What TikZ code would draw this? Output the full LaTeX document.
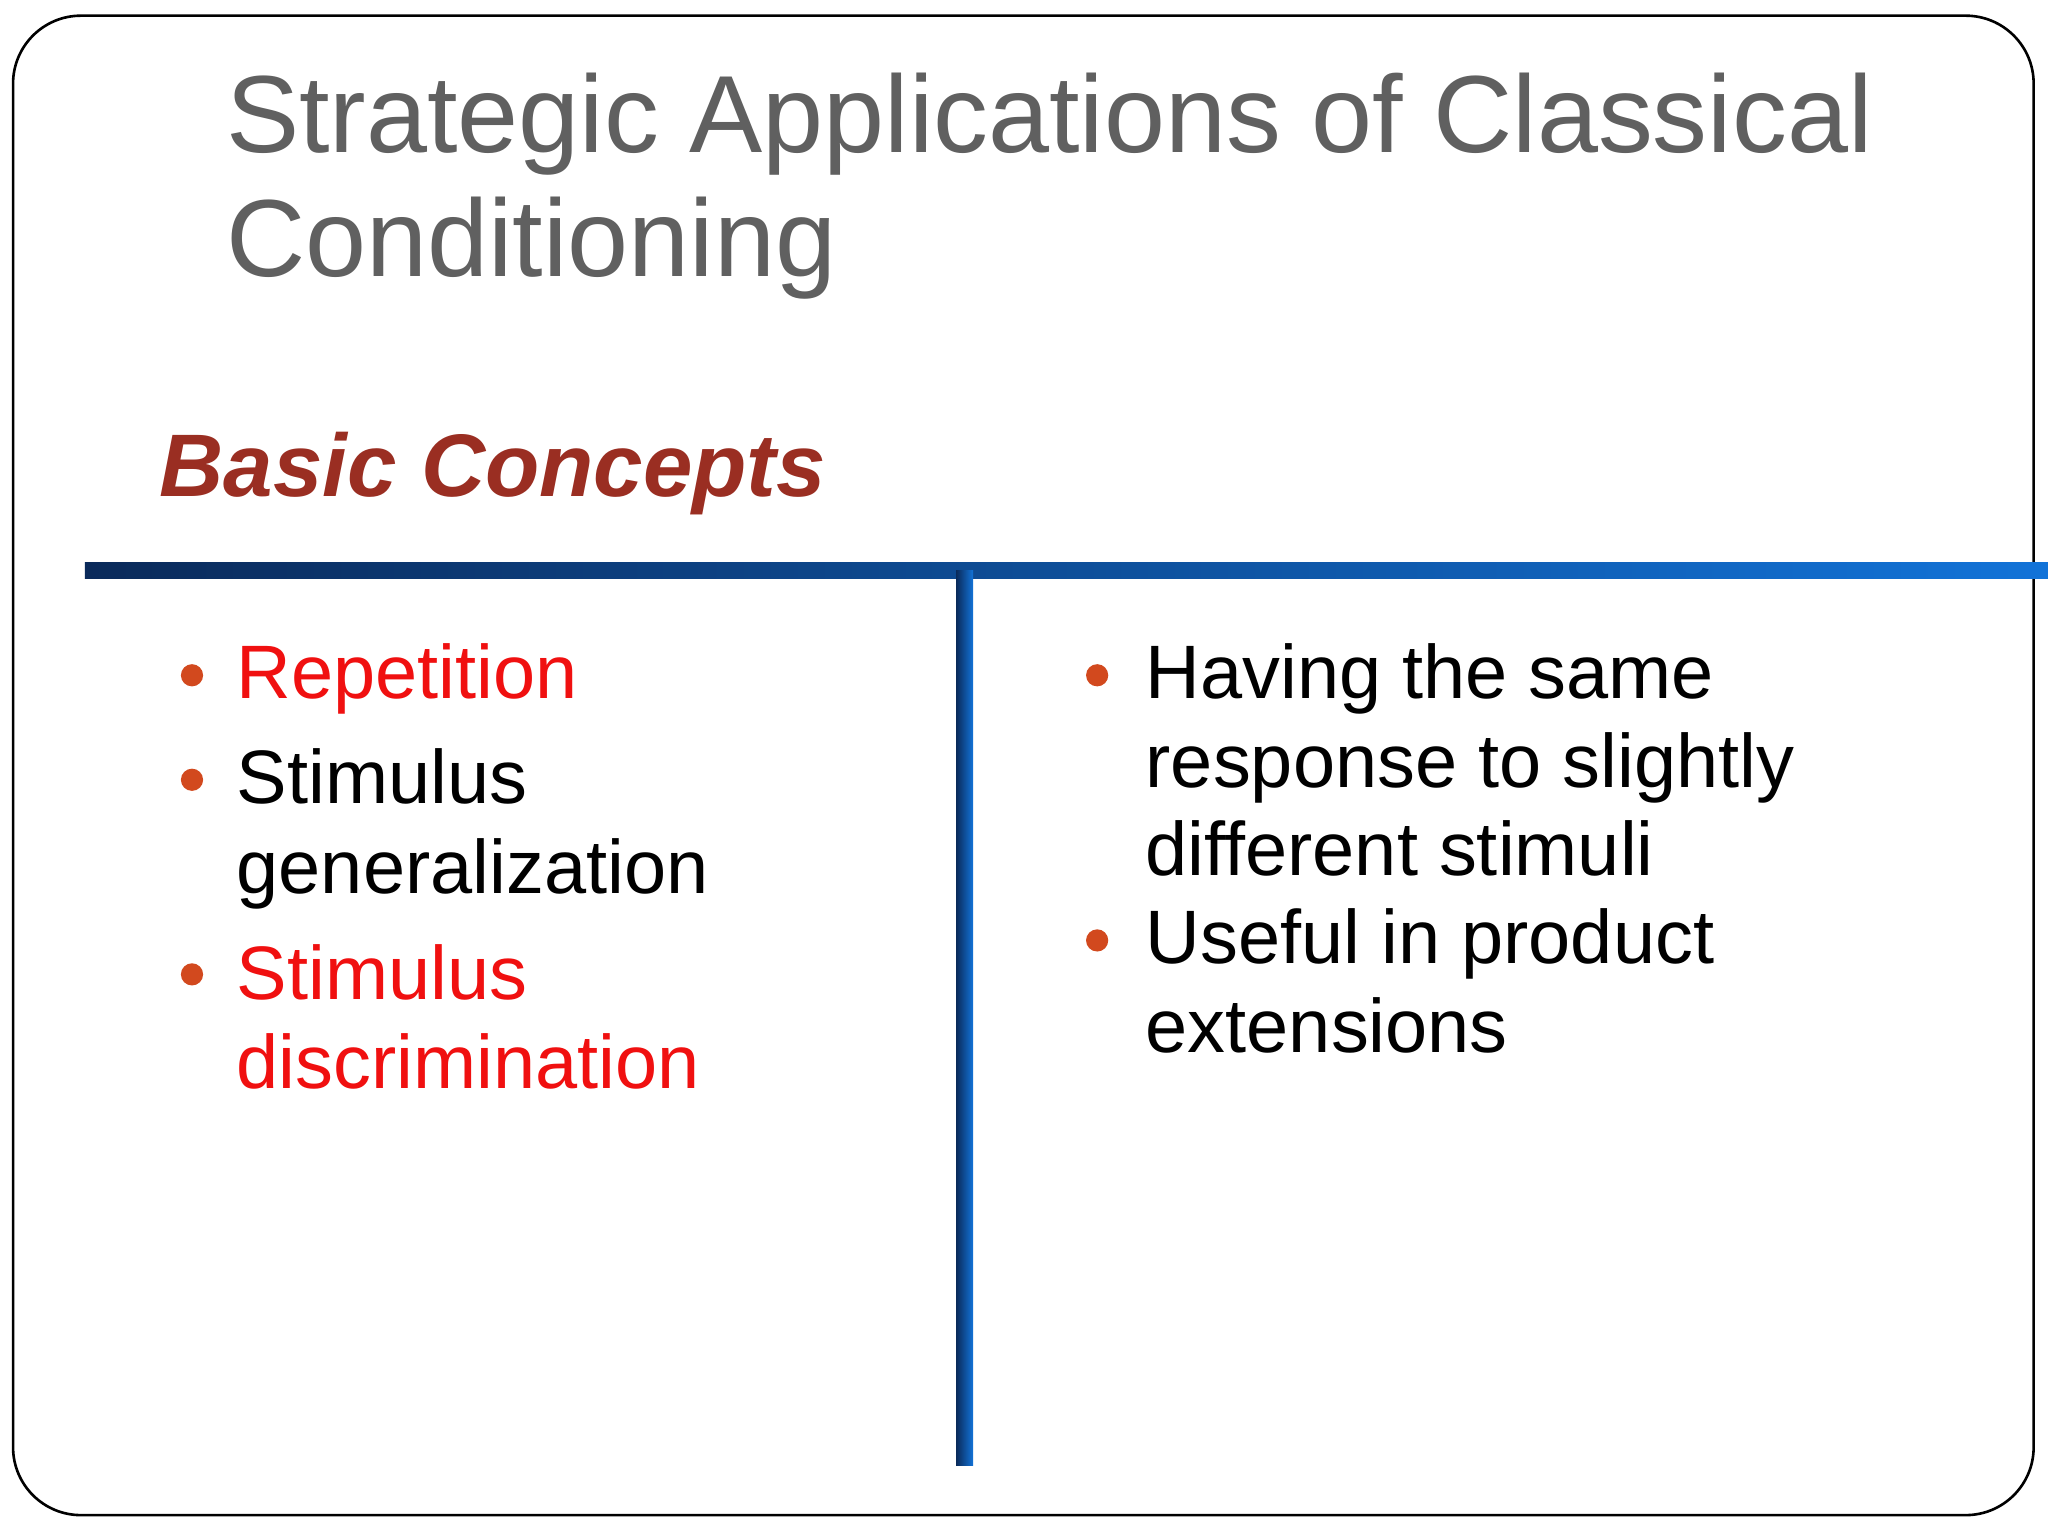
\documentclass[tikz,border=0pt]{standalone}
\usepackage{fontspec}
\setmainfont{Liberation Sans}
\definecolor{titlegray}{HTML}{606060}
\definecolor{bcred}{HTML}{9A2E22}
\definecolor{bulletc}{HTML}{D2491E}
\definecolor{navy}{HTML}{0A2A5A}
\definecolor{brightblue}{HTML}{1273D8}
\definecolor{hired}{HTML}{F01010}
\begin{document}
\begin{tikzpicture}[x=1pt,y=-1pt,
  txt/.style={anchor=base west,inner sep=0pt,font=\fontsize{58}{68}\selectfont},
  dot/.style={circle,fill=bulletc,inner sep=0pt,minimum size=17pt}]
\useasboundingbox (0,0) rectangle (1568,1176);
\fill[white] (0,0) rectangle (1568,1176);
\draw[line width=2pt,rounded corners=52pt] (10,12) rectangle (1557,1160);
\node[txt,text=titlegray,font=\fontsize{84}{96}\selectfont] (t1) at (173,117) {Strategic Applications of Classical};
\node[txt,text=titlegray,font=\fontsize{84}{96}\selectfont] (t2) at (173,212) {Conditioning};
\node[txt,text=bcred,font=\fontsize{68}{80}\selectfont\bfseries\itshape] (bc) at (122,380) {Basic Concepts};
\shade[left color=navy,right color=brightblue] (65,431) rectangle (1568,443);
\shade[left color=navy,right color=brightblue] (732,437) rectangle (745,1122);
% left column
\node[dot] (d1) at (147,517) {};
\node[txt,text=hired] (l1) at (181,535) {Repetition};
\node[dot] (d2) at (147,597) {};
\node[txt] (l2) at (181,615) {Stimulus};
\node[txt] (l3) at (181,684) {generalization};
\node[dot] (d3) at (147,746) {};
\node[txt,text=hired] (l4) at (181,765) {Stimulus};
\node[txt,text=hired] (l5) at (181,833) {discrimination};
% right column
\node[dot] (d4) at (840,517) {};
\node[txt] (r1) at (877,535) {Having the same};
\node[txt] (r2) at (877,603) {response to slightly};
\node[txt] (r3) at (877,670) {different stimuli};
\node[dot] (d5) at (840,720) {};
\node[txt] (r4) at (877,738) {Useful in product};
\node[txt] (r5) at (877,806) {extensions};
\end{tikzpicture}
\end{document}
